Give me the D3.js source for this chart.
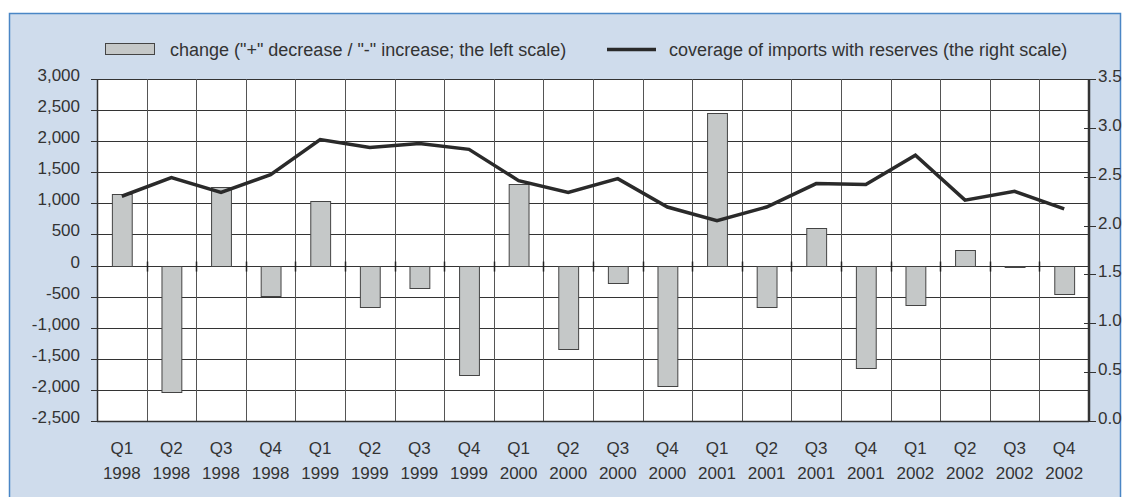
<!DOCTYPE html>
<html>
<head>
<meta charset="utf-8">
<script src="https://cdn.jsdelivr.net/npm/d3@7"></script>
<style>
  body { margin: 0; background: #fff; }
  svg { display: block; font-family: "Liberation Sans", Arial, sans-serif; }
</style>
</head>
<body>
<svg id="chart" width="1130" height="497"></svg>
<script>
const quarters = ['Q1','Q2','Q3','Q4','Q1','Q2','Q3','Q4','Q1','Q2','Q3','Q4','Q1','Q2','Q3','Q4','Q1','Q2','Q3','Q4'];
const years = ['1998','1998','1998','1998','1999','1999','1999','1999','2000','2000','2000','2000','2001','2001','2001','2001','2002','2002','2002','2002'];
const changeValues = [1150, -2030, 1270, -485, 1030, -665, -362, -1757, 1315, -1335, -273, -1940, 2455, -665, 605, -1655, -632, 245, -28, -455];
const coverageValues = [2.30, 2.49, 2.34, 2.52, 2.88, 2.80, 2.84, 2.78, 2.46, 2.34, 2.48, 2.19, 2.05, 2.19, 2.43, 2.42, 2.72, 2.26, 2.35, 2.17];
const leftTicks = [-2500, -2000, -1500, -1000, -500, 0, 500, 1000, 1500, 2000, 2500, 3000];
const rightTicks = [0, 0.5, 1, 1.5, 2, 2.5, 3, 3.5];
const legendLabels = ['change ("+" decrease / "-" increase; the left scale)', 'coverage of imports with reserves (the right scale)'];

const svg = d3.select('#chart');
const plot = {left: 97, right: 1089, top: 79, bottom: 421};
const textColor = '#333';
const fmt = d => d3.format(',')(d).replace('\u2212', '-');

const keys = quarters.map((q, i) => i);

const x = d3.scaleBand()
  .domain(keys)
  .range([plot.left, plot.right])
  .paddingInner(0.6)
  .paddingOuter(0.3);
const step = x.step();
const edge = i => Math.round(x(i) - step * 0.3) + 0.5;

const yLeft = d3.scaleLinear().domain([-2500, 3000]).range([plot.bottom, plot.top]);
const yRight = d3.scaleLinear().domain([0, 3.5]).range([plot.bottom, plot.top]);

// panel background
svg.append('rect')
  .attr('x', 9.5).attr('y', 13.5)
  .attr('width', 1111).attr('height', 500)
  .style('fill', '#cfdcec')
  .style('stroke', '#4a86c5')
  .style('stroke-width', 1.5);

// plot area
svg.append('rect')
  .attr('x', plot.left).attr('y', plot.top)
  .attr('width', plot.right - plot.left).attr('height', plot.bottom - plot.top)
  .style('fill', '#fff');

// horizontal grid
svg.append('g')
  .selectAll('line')
  .data(leftTicks)
  .enter()
  .append('line')
  .attr('x1', plot.left).attr('x2', plot.right)
  .attr('y1', d => Math.round(yLeft(d)) + 0.5)
  .attr('y2', d => Math.round(yLeft(d)) + 0.5)
  .style('stroke', '#333')
  .style('stroke-width', 1);

// vertical grid at category boundaries
svg.append('g')
  .selectAll('line')
  .data(keys.slice(1))
  .enter()
  .append('line')
  .attr('x1', edge).attr('x2', edge)
  .attr('y1', plot.top).attr('y2', plot.bottom)
  .style('stroke', '#555')
  .style('stroke-width', 1);

// small ticks on the zero line
svg.append('g')
  .selectAll('line')
  .data(keys.slice(1))
  .enter()
  .append('line')
  .attr('x1', edge).attr('x2', edge)
  .attr('y1', yLeft(0) - 4).attr('y2', yLeft(0) + 6)
  .style('stroke', '#222')
  .style('stroke-width', 1.5);

// bars
svg.append('g')
  .selectAll('rect')
  .data(changeValues)
  .enter()
  .append('rect')
  .attr('x', (d, i) => x(i) + 0.5)
  .attr('y', d => Math.round(yLeft(Math.max(0, d))) + 0.5)
  .attr('width', x.bandwidth())
  .attr('height', d => Math.max(1, Math.abs(Math.round(yLeft(d)) - Math.round(yLeft(0)))))
  .style('fill', '#c5c8c8')
  .style('stroke', '#444')
  .style('stroke-width', 1);

// line
const line = d3.line()
  .x((d, i) => x(i) + x.bandwidth() / 2)
  .y(d => yRight(d));

svg.append('path')
  .datum(coverageValues)
  .attr('d', line)
  .style('fill', 'none')
  .style('stroke', '#2a2a2a')
  .style('stroke-width', 3.5)
  .style('stroke-linejoin', 'miter');

// axis frame lines
svg.append('line')
  .attr('x1', plot.left + 0.5).attr('x2', plot.left + 0.5)
  .attr('y1', plot.top).attr('y2', plot.bottom + 1)
  .style('stroke', '#333').style('stroke-width', 1.5);
svg.append('line')
  .attr('x1', plot.right).attr('x2', plot.right)
  .attr('y1', plot.top).attr('y2', plot.bottom + 1)
  .style('stroke', '#333').style('stroke-width', 2.5);
svg.append('line')
  .attr('x1', plot.left).attr('x2', plot.right)
  .attr('y1', plot.bottom + 0.5).attr('y2', plot.bottom + 0.5)
  .style('stroke', '#333').style('stroke-width', 1.5);

// left axis
const leftAxis = svg.append('g');
leftAxis.selectAll('line')
  .data(leftTicks)
  .enter()
  .append('line')
  .attr('x1', plot.left - 6).attr('x2', plot.left + 5)
  .attr('y1', d => Math.round(yLeft(d)) + 0.5)
  .attr('y2', d => Math.round(yLeft(d)) + 0.5)
  .style('stroke', '#333');
leftAxis.selectAll('text')
  .data(leftTicks)
  .enter()
  .append('text')
  .attr('x', 80)
  .attr('y', d => yLeft(d) + 2)
  .attr('text-anchor', 'end')
  .style('font-size', '17px')
  .style('fill', textColor)
  .text(d => fmt(d));

// right axis
const rightAxis = svg.append('g');
rightAxis.selectAll('line')
  .data(rightTicks)
  .enter()
  .append('line')
  .attr('x1', plot.right - 5).attr('x2', plot.right + 7)
  .attr('y1', d => Math.round(yRight(d)) + 0.5)
  .attr('y2', d => Math.round(yRight(d)) + 0.5)
  .style('stroke', '#333');
rightAxis.selectAll('text')
  .data(rightTicks)
  .enter()
  .append('text')
  .attr('x', 1098)
  .attr('y', d => yRight(d) + 3)
  .style('font-size', '17px')
  .style('fill', textColor)
  .text(d => d.toFixed(1));

// category labels
const xLabels = svg.append('g')
  .selectAll('text')
  .data(keys)
  .enter()
  .append('text')
  .attr('text-anchor', 'middle')
  .style('font-size', '17px')
  .style('fill', textColor);
xLabels.append('tspan')
  .attr('x', d => x(d) + x.bandwidth() / 2)
  .attr('y', 454)
  .text(d => quarters[d]);
xLabels.append('tspan')
  .attr('x', d => x(d) + x.bandwidth() / 2)
  .attr('y', 479)
  .text(d => years[d]);

// legend
const legend = svg.append('g');
legend.append('rect')
  .attr('x', 105.5).attr('y', 43.5)
  .attr('width', 49).attr('height', 11)
  .style('fill', '#c5c8c8')
  .style('stroke', '#444');
legend.append('text')
  .attr('x', 170).attr('y', 56)
  .style('font-size', '18px')
  .style('fill', textColor)
  .text(legendLabels[0]);
legend.append('line')
  .attr('x1', 607).attr('x2', 656)
  .attr('y1', 49.5).attr('y2', 49.5)
  .style('stroke', '#2a2a2a')
  .style('stroke-width', 3.5);
legend.append('text')
  .attr('x', 669).attr('y', 56)
  .style('font-size', '18px')
  .style('fill', textColor)
  .text(legendLabels[1]);
</script>
</body>
</html>
